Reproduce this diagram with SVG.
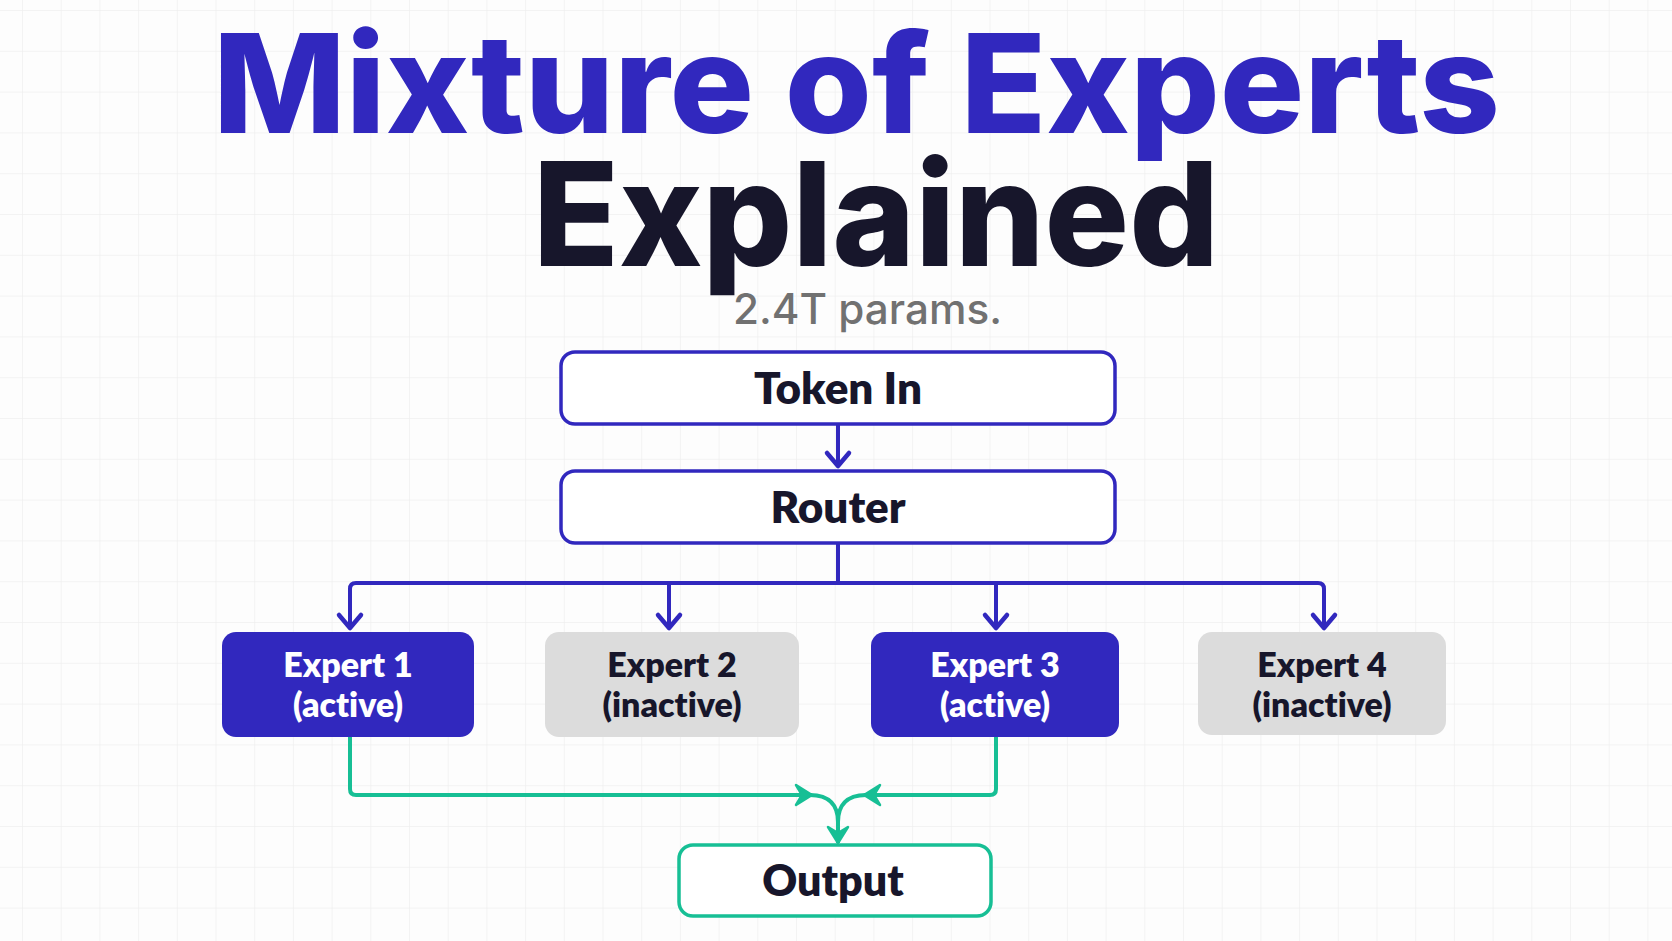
<svg xmlns="http://www.w3.org/2000/svg" width="1672" height="941" viewBox="0 0 1672 941">
  <style>
    .title { font-family: Inter, "Liberation Sans", sans-serif; font-weight: 800; }
    .lbl { font-family: Lato, "Liberation Sans", sans-serif; font-weight: 800; text-anchor: middle; font-variant-ligatures: none; font-feature-settings: "liga" 0, "dlig" 0; }
    .blueBox { fill: #ffffff; stroke: #3128be; stroke-width: 3.5; }
    .active { fill: #3128be; }
    .inactive { fill: #dcdcdc; }
    .outBox { fill: #ffffff; stroke: #17bf95; stroke-width: 3.5; }
    .blue { fill: none; stroke: #3128be; stroke-width: 4; stroke-linejoin: round; }
    .green { fill: none; stroke: #17bf95; stroke-width: 4; stroke-linejoin: round; }
  </style>
  <defs>
    <pattern id="grid" x="22" y="10" width="38.7" height="40.8" patternUnits="userSpaceOnUse">
      <path d="M0 0 V40.8 M0 0 H38.7" fill="none" stroke="#f0f0f0" stroke-width="1.5"/>
    </pattern>
    <marker id="arrBlue" viewBox="-18 -16 22 32" refX="0" refY="0" markerWidth="22" markerHeight="32" markerUnits="userSpaceOnUse" orient="auto">
      <path d="M-14 -11 L-1 0 L-14 11" fill="none" stroke="#3128be" stroke-width="4.5" stroke-linecap="round" stroke-linejoin="round"/>
    </marker>
    <marker id="arrGreen" viewBox="-20 -14 24 28" refX="0" refY="0" markerWidth="24" markerHeight="28" markerUnits="userSpaceOnUse" orient="auto">
      <path d="M0 0 L-16 -10 L-10 0 L-16 10 Z" fill="#17bf95" stroke="#17bf95" stroke-width="2.5" stroke-linejoin="round"/>
    </marker>
  </defs>

  <rect width="1672" height="941" fill="#fdfdfd"/>
  <rect width="1672" height="941" fill="url(#grid)"/>

  <g id="title">
    <text class="title" x="213" y="133" font-size="138" fill="#3128be" textLength="1287" lengthAdjust="spacingAndGlyphs">Mixture of Experts</text>
    <text class="title" x="533" y="266" font-size="144" fill="#17162b" textLength="686" lengthAdjust="spacingAndGlyphs">Explained</text>
    <text x="733" y="324" font-family="Inter, 'Liberation Sans', sans-serif" font-weight="500" font-size="42" fill="#717171" textLength="269" lengthAdjust="spacingAndGlyphs">2.4T params.</text>
  </g>

  <g id="connectors">
    <path class="blue" d="M838 425 V467" marker-end="url(#arrBlue)"/>
    <path class="blue" d="M838 544 V583 H356 Q350 583 350 589 V629" marker-end="url(#arrBlue)"/>
    <path class="blue" d="M838 583 H669 V629" marker-end="url(#arrBlue)"/>
    <path class="blue" d="M838 583 H996 V629" marker-end="url(#arrBlue)"/>
    <path class="blue" d="M838 583 H1318 Q1324 583 1324 589 V629" marker-end="url(#arrBlue)"/>
    <path class="green" d="M350 737 V789 Q350 795 356 795 H812" marker-end="url(#arrGreen)"/>
    <path class="green" d="M996 737 V789 Q996 795 990 795 H864" marker-end="url(#arrGreen)"/>
    <path class="green" d="M810 795 C830 795 838 806 838 822"/>
    <path class="green" d="M866 795 C846 795 838 806 838 822"/>
    <path class="green" d="M838 820 V843" marker-end="url(#arrGreen)"/>
  </g>

  <g id="token-in">
    <rect class="blueBox" x="561" y="352" width="554" height="72" rx="14"/>
    <text class="lbl" x="838" y="404" font-size="44" fill="#17162b">Token In</text>
  </g>
  <g id="router">
    <rect class="blueBox" x="561" y="471" width="554" height="72" rx="14"/>
    <text class="lbl" x="838" y="523" font-size="44" fill="#17162b">Router</text>
  </g>
  <g id="expert-1">
    <rect class="active" x="222" y="632" width="252" height="105" rx="14"/>
    <text class="lbl" x="348" y="677" font-size="34" fill="#ffffff">Expert 1</text>
    <text class="lbl" x="348" y="717" font-size="34" fill="#ffffff">(active)</text>
  </g>
  <g id="expert-2">
    <rect class="inactive" x="545" y="632" width="254" height="105" rx="14"/>
    <text class="lbl" x="672" y="677" font-size="34" fill="#17162b">Expert 2</text>
    <text class="lbl" x="672" y="717" font-size="34" fill="#17162b">(inactive)</text>
  </g>
  <g id="expert-3">
    <rect class="active" x="871" y="632" width="248" height="105" rx="14"/>
    <text class="lbl" x="995" y="677" font-size="34" fill="#ffffff">Expert 3</text>
    <text class="lbl" x="995" y="717" font-size="34" fill="#ffffff">(active)</text>
  </g>
  <g id="expert-4">
    <rect class="inactive" x="1198" y="632" width="248" height="103" rx="14"/>
    <text class="lbl" x="1322" y="677" font-size="34" fill="#17162b">Expert 4</text>
    <text class="lbl" x="1322" y="717" font-size="34" fill="#17162b">(inactive)</text>
  </g>
  <g id="output">
    <rect class="outBox" x="679" y="845" width="312" height="71" rx="14"/>
    <text class="lbl" x="833" y="896" font-size="43" fill="#17162b">Output</text>
  </g>
</svg>
